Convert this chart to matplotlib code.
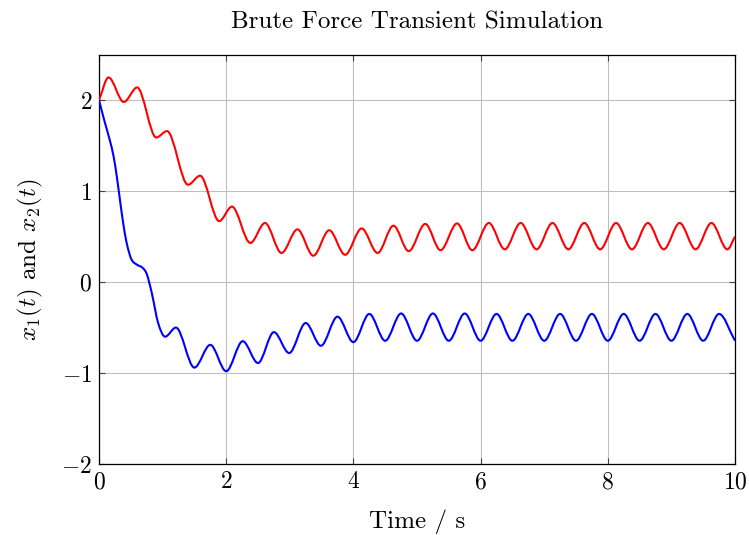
import numpy as np
import matplotlib
matplotlib.use("Agg")
import matplotlib.pyplot as plt
from matplotlib.path import Path
from matplotlib.patches import PathPatch

plt.rcParams['font.family'] = 'serif'
plt.rcParams['font.serif'] = ['cmr10', 'DejaVu Serif']
plt.rcParams['mathtext.fontset'] = 'cm'
plt.rcParams['axes.formatter.use_mathtext'] = True
plt.rcParams['axes.unicode_minus'] = True

# ---- data (key points: extrema and shape points) ----
t_x1 = [0.00, 0.09, 0.17, 0.23, 0.28, 0.33, 0.38, 0.435, 0.51, 0.60, 0.68, 0.75,
        0.83, 0.93, 1.04, 1.21, 1.50, 1.75, 2.00, 2.26, 2.50, 2.75, 2.99, 3.25,
        3.49, 3.75, 4.00, 4.25, 4.50, 4.75, 5.00, 5.25, 5.50, 5.75, 6.00, 6.25,
        6.50, 6.75, 7.00, 7.25, 7.50, 7.75, 8.00, 8.25, 8.50, 8.75, 9.00, 9.25,
        9.50, 9.75, 10.00]
x1 = [2.00, 1.76, 1.56, 1.38, 1.16, 0.90, 0.65, 0.43, 0.25, 0.19, 0.16, 0.09,
      -0.12, -0.45, -0.60, -0.50, -0.94, -0.69, -0.98, -0.65, -0.89, -0.55, -0.78, -0.45,
      -0.70, -0.38, -0.66, -0.35, -0.645, -0.345, -0.645, -0.345, -0.645, -0.345, -0.645, -0.35,
      -0.645, -0.35, -0.645, -0.35, -0.645, -0.35, -0.645, -0.35, -0.645, -0.35, -0.645, -0.35,
      -0.645, -0.35, -0.645]

t_x2 = [0.00, 0.15, 0.39, 0.60, 0.90, 1.07, 1.40, 1.59, 1.89, 2.09, 2.38, 2.61,
        2.87, 3.12, 3.37, 3.62, 3.87, 4.13, 4.38, 4.63, 4.87, 5.13, 5.37, 5.63,
        5.87, 6.13, 6.38, 6.63, 6.88, 7.13, 7.38, 7.63, 7.88, 8.13, 8.38, 8.63,
        8.88, 9.13, 9.38, 9.63, 9.88, 10.00]
x2 = [2.00, 2.25, 1.98, 2.14, 1.59, 1.66, 1.07, 1.17, 0.67, 0.83, 0.43, 0.65,
      0.32, 0.58, 0.29, 0.57, 0.30, 0.59, 0.32, 0.62, 0.34, 0.64, 0.35, 0.645,
      0.35, 0.65, 0.36, 0.65, 0.36, 0.65, 0.36, 0.65, 0.36, 0.65, 0.36, 0.65,
      0.36, 0.65, 0.36, 0.65, 0.36, 0.50]

x_ticks = [0, 2, 4, 6, 8, 10]
y_ticks = [-2, -1, 0, 1, 2]


def smooth_path(t, v):
    """Smooth (Bezier) path through the given points, like pgfplots' smooth."""
    t = np.asarray(t, float)
    v = np.asarray(v, float)
    n = len(t)
    m = np.zeros(n)
    for i in range(n):
        if i == 0:
            m[i] = (v[1] - v[0]) / (t[1] - t[0])
        elif i == n - 1:
            m[i] = (v[-1] - v[-2]) / (t[-1] - t[-2])
        else:
            d0 = v[i] - v[i - 1]
            d1 = v[i + 1] - v[i]
            if d0 * d1 <= 0:
                m[i] = 0.0
            else:
                m[i] = (v[i + 1] - v[i - 1]) / (t[i + 1] - t[i - 1])
    verts = [(t[0], v[0])]
    codes = [Path.MOVETO]
    for i in range(n - 1):
        h = t[i + 1] - t[i]
        verts += [(t[i] + h / 3, v[i] + m[i] * h / 3),
                  (t[i + 1] - h / 3, v[i + 1] - m[i + 1] * h / 3),
                  (t[i + 1], v[i + 1])]
        codes += [Path.CURVE4] * 3
    return Path(verts, codes)


fig = plt.figure(figsize=(7.49, 5.35), dpi=100)
ax = fig.add_axes([99 / 749, 1 - 464 / 535, (735 - 99) / 749, (464 - 54.7) / 535])

ax.add_patch(PathPatch(smooth_path(t_x2, x2), fill=False, edgecolor=(1, 0, 0),
                       linewidth=1.5, zorder=3))
ax.add_patch(PathPatch(smooth_path(t_x1, x1), fill=False, edgecolor=(0, 0, 1),
                       linewidth=1.5, zorder=3))

ax.set_xlim(0, 10)
ax.set_ylim(-2, 2.5)
ax.set_xticks(x_ticks)
ax.set_yticks(y_ticks)
ax.grid(True, color='#bfbfbf', linewidth=0.8)
ax.set_axisbelow(True)
ax.tick_params(direction='in', top=True, right=True, length=4, width=0.8,
               color='#444444', labelsize=17, pad=5)
for s in ax.spines.values():
    s.set_linewidth(0.9)
    s.set_color('black')

ax.set_title('Brute Force Transient Simulation', fontsize=18, pad=19)
ax.set_xlabel('Time / s', fontsize=18, labelpad=12)
ax.set_ylabel(r'$x_1(t)$ and $x_2(t)$', fontsize=18, labelpad=12)

fig.savefig('out.png', dpi=100)
